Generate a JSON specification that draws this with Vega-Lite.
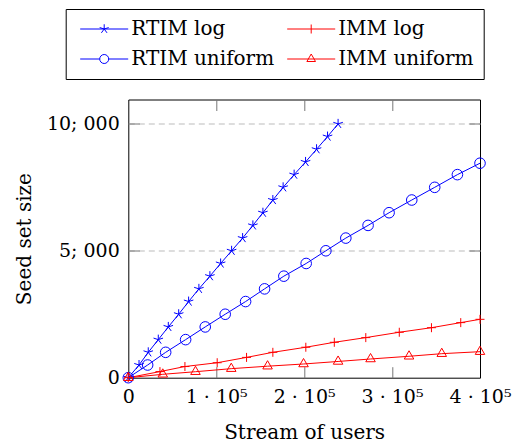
{
  "$schema": "https://vega.github.io/schema/vega-lite/v6.json",
  "width": 351.7,
  "height": 278.2,
  "autosize": "none",
  "padding": {"left": 128.3, "top": 99.5, "right": 38, "bottom": 66.3},
  "background": "white",
  "config": {
    "view": {"stroke": "#000", "strokeWidth": 1},
    "font": "DejaVu Serif",
    "axis": {"labelFont": "DejaVu Serif", "titleFont": "DejaVu Serif", "labelColor": "#000", "titleColor": "#000", "titleFontWeight": "normal", "labelFontSize": 19, "titleFontSize": 20, "domain": false, "tickColor": "#777", "tickWidth": 1}
  },
  "data": {
    "values": [
      {"series": "RTIM log", "x": 0, "y": 0},
      {"series": "RTIM log", "x": 12200, "y": 500},
      {"series": "RTIM log", "x": 22700, "y": 1000},
      {"series": "RTIM log", "x": 34100, "y": 1500},
      {"series": "RTIM log", "x": 45500, "y": 2000},
      {"series": "RTIM log", "x": 57300, "y": 2500},
      {"series": "RTIM log", "x": 68600, "y": 3000},
      {"series": "RTIM log", "x": 80300, "y": 3500},
      {"series": "RTIM log", "x": 92800, "y": 4000},
      {"series": "RTIM log", "x": 105000, "y": 4500},
      {"series": "RTIM log", "x": 117500, "y": 5000},
      {"series": "RTIM log", "x": 130000, "y": 5500},
      {"series": "RTIM log", "x": 141700, "y": 6000},
      {"series": "RTIM log", "x": 153100, "y": 6500},
      {"series": "RTIM log", "x": 164400, "y": 7000},
      {"series": "RTIM log", "x": 176100, "y": 7500},
      {"series": "RTIM log", "x": 188600, "y": 8000},
      {"series": "RTIM log", "x": 201600, "y": 8500},
      {"series": "RTIM log", "x": 214100, "y": 9000},
      {"series": "RTIM log", "x": 226600, "y": 9500},
      {"series": "RTIM log", "x": 238600, "y": 10000},
      {"series": "RTIM uniform", "x": 0, "y": 0},
      {"series": "RTIM uniform", "x": 22000, "y": 500},
      {"series": "RTIM uniform", "x": 42500, "y": 1000},
      {"series": "RTIM uniform", "x": 65200, "y": 1500},
      {"series": "RTIM uniform", "x": 87500, "y": 2000},
      {"series": "RTIM uniform", "x": 110200, "y": 2500},
      {"series": "RTIM uniform", "x": 133400, "y": 3000},
      {"series": "RTIM uniform", "x": 155000, "y": 3500},
      {"series": "RTIM uniform", "x": 176900, "y": 4000},
      {"series": "RTIM uniform", "x": 202300, "y": 4500},
      {"series": "RTIM uniform", "x": 224700, "y": 5000},
      {"series": "RTIM uniform", "x": 247400, "y": 5500},
      {"series": "RTIM uniform", "x": 272700, "y": 6000},
      {"series": "RTIM uniform", "x": 296600, "y": 6500},
      {"series": "RTIM uniform", "x": 322400, "y": 7000},
      {"series": "RTIM uniform", "x": 348500, "y": 7500},
      {"series": "RTIM uniform", "x": 374300, "y": 8000},
      {"series": "RTIM uniform", "x": 400000, "y": 8450},
      {"series": "IMM log", "x": 0, "y": 0},
      {"series": "IMM log", "x": 36000, "y": 240},
      {"series": "IMM log", "x": 64400, "y": 440},
      {"series": "IMM log", "x": 101100, "y": 590},
      {"series": "IMM log", "x": 134500, "y": 800},
      {"series": "IMM log", "x": 164400, "y": 1000},
      {"series": "IMM log", "x": 201900, "y": 1200},
      {"series": "IMM log", "x": 234300, "y": 1395},
      {"series": "IMM log", "x": 270100, "y": 1580},
      {"series": "IMM log", "x": 308200, "y": 1790},
      {"series": "IMM log", "x": 344800, "y": 1970},
      {"series": "IMM log", "x": 378100, "y": 2170},
      {"series": "IMM log", "x": 400000, "y": 2300},
      {"series": "IMM uniform", "x": 0, "y": 0},
      {"series": "IMM uniform", "x": 39200, "y": 134},
      {"series": "IMM uniform", "x": 76400, "y": 236},
      {"series": "IMM uniform", "x": 117100, "y": 356},
      {"series": "IMM uniform", "x": 158400, "y": 453},
      {"series": "IMM uniform", "x": 199300, "y": 540},
      {"series": "IMM uniform", "x": 238600, "y": 640},
      {"series": "IMM uniform", "x": 275500, "y": 737},
      {"series": "IMM uniform", "x": 319300, "y": 844},
      {"series": "IMM uniform", "x": 356500, "y": 946},
      {"series": "IMM uniform", "x": 400000, "y": 1025}
    ]
  },
  "layer": [
    {
      "mark": {"type": "line", "strokeWidth": 1, "clip": false},
      "encoding": {
        "x": {"field": "x", "type": "quantitative", "scale": {"domain": [0, 400000], "nice": false, "zero": false},
          "axis": {"orient": "bottom", "values": [0, 100000, 200000, 300000, 400000], "labelExpr": "datum.value == 0 ? '0' : format(datum.value / 100000, 'd') + ' · 10⁵'", "ticks": false, "grid": false, "labelPadding": 10, "labelFlush": false, "labelOverlap": false, "title": "Stream of users", "titleFont": "DejaVu Serif", "titlePadding": 16}},
        "y": {"field": "y", "type": "quantitative", "scale": {"domain": [0, 10960], "nice": false, "zero": false},
          "axis": {"orient": "left", "values": [0, 5000, 10000], "labelExpr": "datum.value == 10000 ? '10; 000' : datum.value == 5000 ? '5; 000' : '0'", "ticks": false, "grid": true, "gridDash": [6, 4], "gridWidth": 1, "gridColor": {"condition": {"test": "datum.value == 0", "value": "transparent"}, "value": "#bbbbbb"}, "labelPadding": 9, "labelFlush": false, "labelOverlap": false, "title": "Seed set size", "titleFont": "DejaVu Serif", "titlePadding": 12}},
        "color": {"field": "series", "type": "nominal", "scale": {"domain": ["RTIM log", "RTIM uniform", "IMM log", "IMM uniform"], "range": ["#0000ff", "#0000ff", "#ff0000", "#ff0000"]}, "legend": null}
      }
    },
    {
      "mark": {"type": "point", "filled": false, "strokeWidth": 1, "size": 100, "opacity": 1, "clip": false},
      "encoding": {
        "x": {"field": "x", "type": "quantitative", "axis": {"orient": "bottom", "values": [100000, 200000, 300000], "labels": false, "ticks": true, "tickSize": -11, "grid": false, "title": null}},
        "y": {"field": "y", "type": "quantitative", "axis": {"orient": "left", "values": [5000, 10000], "labels": false, "ticks": true, "tickSize": -11, "grid": false, "title": null}},
        "color": {"field": "series", "type": "nominal", "scale": {"domain": ["RTIM log", "RTIM uniform", "IMM log", "IMM uniform"], "range": ["#0000ff", "#0000ff", "#ff0000", "#ff0000"]}, "legend": null},
        "shape": {"field": "series", "type": "nominal", "scale": {"domain": ["RTIM log", "RTIM uniform", "IMM log", "IMM uniform"], "range": [
          "M0,0L0,-1M0,0L-0.951,-0.309M0,0L-0.588,0.809M0,0L0.588,0.809M0,0L0.951,-0.309",
          "M1.06,0A1.06,1.06,0,1,1,-1.06,0A1.06,1.06,0,1,1,1.06,0Z",
          "M-0.9,0L0.9,0M0,-0.9L0,0.9",
          "M0,-1.1L0.953,0.55L-0.953,0.55Z"
        ]}, "legend": null}
      }
    },
    {
      "mark": {"type": "point", "filled": false, "strokeWidth": 1, "size": 100, "opacity": 0, "clip": false},
      "encoding": {
        "x": {"field": "x", "type": "quantitative", "axis": {"orient": "top", "values": [100000, 200000, 300000], "labels": false, "ticks": true, "tickSize": -11, "grid": false, "title": null}},
        "y": {"field": "y", "type": "quantitative", "axis": {"orient": "right", "values": [5000, 10000], "labels": false, "ticks": true, "tickSize": -11, "grid": false, "title": null}},
        "color": {"field": "series", "type": "nominal", "scale": {"domain": ["RTIM log", "RTIM uniform", "IMM log", "IMM uniform"], "range": ["#0000ff", "#0000ff", "#ff0000", "#ff0000"]},
          "legend": {"title": null, "orient": "none", "legendX": -62.6, "legendY": -90.5, "columns": 2, "symbolOffset": 18.5, "labelOffset": 17, "labelFont": "DejaVu Serif", "labelFontSize": 20, "labelColor": "#000", "labelLimit": 0, "strokeColor": "#000", "padding": 10, "columnPadding": 8, "rowPadding": 10, "symbolStrokeWidth": 1, "symbolOpacity": 1, "symbolFillColor": "transparent"}},
        "shape": {"field": "series", "type": "nominal", "scale": {"domain": ["RTIM log", "RTIM uniform", "IMM log", "IMM uniform"], "range": [
          "M-4.8,0L4.8,0M0,0L0,-0.95M0,0L-0.9,-0.29M0,0L-0.56,0.77M0,0L0.56,0.77M0,0L0.9,-0.29",
          "M-4.8,0L-0.9,0M0.9,0L4.8,0M0.9,0A0.9,0.9,0,1,1,-0.9,0A0.9,0.9,0,1,1,0.9,0Z",
          "M-4.8,0L4.8,0M0,-0.9L0,0.9",
          "M-4.8,0L4.8,0M0,-1L0.866,0.5L-0.866,0.5Z"
        ]},
          "legend": {"title": null, "orient": "none", "legendX": -62.6, "legendY": -90.5, "columns": 2, "symbolOffset": 18.5, "labelOffset": 17, "labelFont": "DejaVu Serif", "labelFontSize": 20, "labelColor": "#000", "labelLimit": 0, "strokeColor": "#000", "padding": 10, "columnPadding": 8, "rowPadding": 10, "symbolStrokeWidth": 1, "symbolOpacity": 1, "symbolFillColor": "transparent"}}
      }
    }
  ],
  "resolve": {
    "scale": {"color": "independent", "shape": "independent"},
    "axis": {"x": "independent", "y": "independent"},
    "legend": {"color": "independent", "shape": "independent"}
  }
}
